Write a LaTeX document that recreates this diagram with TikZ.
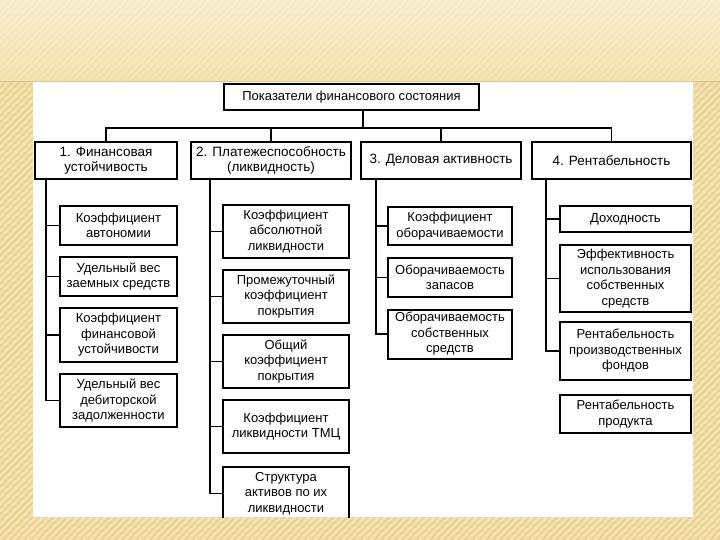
\documentclass[tikz,border=0pt]{standalone}
\usepackage{fontspec}
\setmainfont{Liberation Sans}
\usetikzlibrary{calc}

\definecolor{slidetan}{RGB}{231,207,146}
\definecolor{slidestripe}{RGB}{243,225,174}
\definecolor{slidetop}{RGB}{250,244,222}
\definecolor{slideband}{RGB}{247,230,180}
\definecolor{slideline}{RGB}{236,196,118}

\begin{document}
\begin{tikzpicture}[
    x=1pt, y=-1pt,
    every node/.style={font=\fontsize{13}{15.5}\selectfont, align=center, inner sep=1pt},
    rootbox/.style={draw, line width=2pt, minimum width=255pt, minimum height=26pt},
    groupbox/.style={draw, line width=2pt, minimum height=37pt, font=\fontsize{13.5}{15.5}\selectfont},
    itembox/.style={draw, line width=2pt},
    link/.style={line width=1.8pt}
]
\useasboundingbox (0,0) rectangle (720,540);

% === Slide background ===
\begin{scope}
\clip (0,0) rectangle (720,540);
\fill[slidetan] (0,0) rectangle (720,540);
\foreach \i in {-540,-533,...,720} {
    \draw[slidestripe, line width=3pt] (\i,540) -- (\i+540,0);
}
\shade[top color=slidetop, bottom color=slideband, opacity=0.75] (0,0) rectangle (720,81);
\draw[slideline, line width=1.5pt] (0,81.5) -- (720,81.5);
\end{scope}

% White panel
\fill[white] (33,82) rectangle (693,517);

\begin{scope}
\clip (33,82) rectangle (693,517);

% === Top box ===
\node[rootbox] (root) at (351.5,97) {Показатели финансового состояния};

% === Groups ===
\node[groupbox, minimum width=142pt] (fin) at (106,160.5) {1. Финансовая\\устойчивость};
\node[groupbox, minimum width=160pt] (liq) at (271,160.5) {2. Платежеспособность\\(ликвидность)};
\node[groupbox, minimum width=160pt] (act) at (441,160.5) {3. Деловая активность};
\node[groupbox, minimum width=159pt] (prof) at (611.5,160.5) {4. Рентабельность};

% Bus from the top box
\coordinate (hub) at (363,128);
\draw[link] (root.south -| hub) -- (hub);
\draw[link] (fin.north) |- (hub) -| (prof.north);
\draw[link] (liq.north) -- (liq.north |- hub);
\draw[link] (act.north) -- (act.north |- hub);

% === 1. Financial stability ===
\node[itembox, minimum width=117pt, minimum height=39pt] (fin1) at (118.5,225.5) {Коэффициент\\автономии};
\node[itembox, minimum width=117pt, minimum height=39pt] (fin2) at (118.5,276.5) {Удельный вес\\заемных средств};
\node[itembox, minimum width=117pt, minimum height=54pt] (fin3) at (118.5,335) {Коэффициент\\финансовой\\устойчивости};
\node[itembox, minimum width=117pt, minimum height=53pt] (fin4) at (118.5,400.5) {Удельный вес\\дебиторской\\задолженности};

\coordinate (s1) at ($(fin.south west)+(12,0)$);
\foreach \n in {fin1,fin2,fin3,fin4} {
    \draw[link] (s1) |- (\n.west);
}

% === 2. Liquidity ===
\node[itembox, minimum width=126pt, minimum height=53pt] (liq1) at (286,231.5) {Коэффициент\\абсолютной\\ликвидности};
\node[itembox, minimum width=126pt, minimum height=53pt] (liq2) at (286,296.5) {Промежуточный\\коэффициент\\покрытия};
\node[itembox, minimum width=126pt, minimum height=53pt] (liq3) at (286,361.5) {Общий\\коэффициент\\покрытия};
\node[itembox, minimum width=126pt, minimum height=53pt] (liq4) at (286,426.5) {Коэффициент\\ликвидности ТМЦ};
\node[itembox, minimum width=126pt, minimum height=53pt] (liq5) at (286,493.5) {Структура\\активов по их\\ликвидности};

\coordinate (s2) at ($(liq.south west)+(20,0)$);
\foreach \n in {liq1,liq2,liq3,liq4,liq5} {
    \draw[link] (s2) |- (\n.west);
}

% === 3. Business activity ===
\node[itembox, minimum width=124pt, minimum height=38pt] (act1) at (450,226) {Коэффициент\\оборачиваемости};
\node[itembox, minimum width=124pt, minimum height=39pt] (act2) at (450,277.5) {Оборачиваемость\\запасов};
\node[itembox, minimum width=124pt, minimum height=49pt] (act3) at (450,334) {Оборачиваемость\\собственных\\средств};

\coordinate (s3) at ($(act.south west)+(16,0)$);
\foreach \n in {act1,act2,act3} {
    \draw[link] (s3) |- (\n.west);
}

% === 4. Profitability ===
\node[itembox, minimum width=131pt, minimum height=26pt] (prof1) at (625.5,219) {Доходность};
\node[itembox, minimum width=131pt, minimum height=67pt] (prof2) at (625.5,278.5) {Эффективность\\использования\\собственных\\средств};
\node[itembox, minimum width=131pt, minimum height=58pt] (prof3) at (625.5,351) {Рентабельность\\производственных\\фондов};
\node[itembox, minimum width=131pt, minimum height=38pt] (prof4) at (625.5,414) {Рентабельность\\продукта};

\coordinate (s4) at ($(prof.south west)+(15,0)$);
\foreach \n in {prof1,prof2,prof3} {
    \draw[link] (s4) |- (\n.west);
}
\end{scope}

\end{tikzpicture}
\end{document}
